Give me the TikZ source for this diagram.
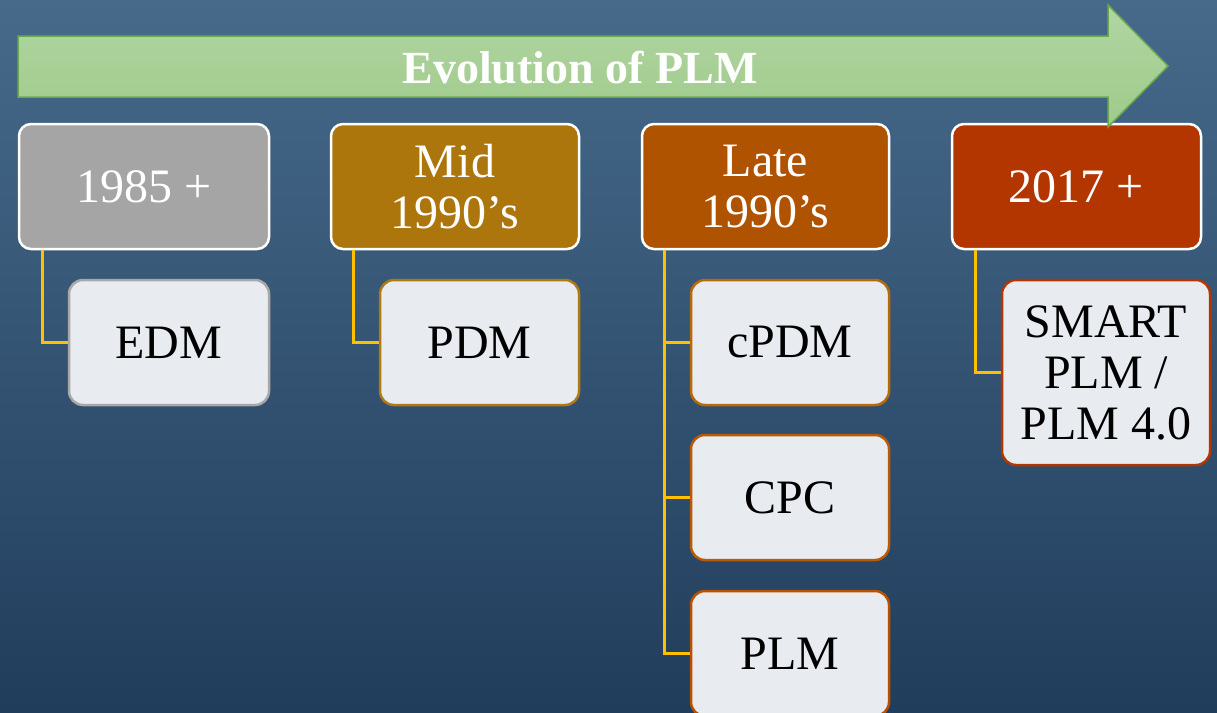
\documentclass[tikz,border=0pt]{standalone}
\usepackage{fontspec}
\setmainfont{Liberation Serif}
\definecolor{bgtop}{HTML}{476A8A}
\definecolor{bgbot}{HTML}{213D5C}
\definecolor{arrtop}{HTML}{B2D5A3}
\definecolor{arrbot}{HTML}{9FCB8A}
\definecolor{arredge}{HTML}{6AA84F}
\definecolor{hgrey}{HTML}{A5A5A5}
\definecolor{hgold}{HTML}{AD760C}
\definecolor{horange}{HTML}{B05300}
\definecolor{hred}{HTML}{B33600}
\definecolor{childfill}{HTML}{E8EBEF}
\definecolor{cgrey}{HTML}{A8A8A8}
\definecolor{cgold}{HTML}{B07A12}
\definecolor{corange}{HTML}{B86A08}
\definecolor{corange2}{HTML}{B85A06}
\definecolor{corange3}{HTML}{B85000}
\definecolor{cred}{HTML}{B33600}
\definecolor{conn}{HTML}{FFC000}
\tikzset{
  x=1pt, y=-1pt,
  headbox/.style={draw=white, line width=2.5pt, rounded corners=12pt,
    minimum width=#1, minimum height=125pt, inner sep=0pt, align=center,
    text=white, font=\fontsize{48}{51}\selectfont},
  childbox/.style={fill=childfill, line width=2.5pt, rounded corners=14pt,
    minimum width=#1, inner sep=0pt, align=center,
    text=black, font=\fontsize{48}{51}\selectfont},
  connline/.style={draw=conn, line width=3pt},
}
\begin{document}
\begin{tikzpicture}
\useasboundingbox (0,0) rectangle (1217,712);
\shade[top color=bgtop, bottom color=bgbot] (0,0) rectangle (1217,712);

% header boxes
\node[headbox=250pt, fill=hgrey] (h1) at (144,186.5) {1985 +};
\node[headbox=248pt, fill=hgold] (h2) at (455,186.5) {Mid\\1990’s};
\node[headbox=247pt, fill=horange] (h3) at (765.5,186.5) {Late\\1990’s};
\node[headbox=249pt, fill=hred] (h4) at (1076.5,186.5) {2017 +};

% child boxes
\node[childbox=200pt, minimum height=125pt, draw=cgrey] (edm) at (169,342.5) {EDM};
\node[childbox=199pt, minimum height=125pt, draw=cgold] (pdm) at (479.5,342.5) {PDM};
\node[childbox=198pt, minimum height=125pt, draw=corange] (cpdm) at (790,342.5) {cPDM};
\node[childbox=198pt, minimum height=125pt, draw=corange2] (cpc) at (790,497.5) {CPC};
\node[childbox=198pt, minimum height=125pt, draw=corange3] (plm) at (790,653.5) {PLM};
\node[childbox=208pt, minimum height=185pt, draw=cred] (smart) at (1106,372.5) {SMART\\PLM /\\PLM 4.0};

% connectors
\draw[connline] (h1.south west) ++(25,0) coordinate (c1) |- (edm.west);
\draw[connline] (h2.south west) ++(24,0) coordinate (c2) |- (pdm.west);
\draw[connline] (h3.south west) ++(24,0) coordinate (c3) |- (cpdm.west);
\draw[connline] (c3) |- (cpc.west);
\draw[connline] (c3) |- (plm.west);
\draw[connline] (h4.south west) ++(25,0) coordinate (c4) |- (smart.west);

% arrow
\filldraw[draw=arredge, line width=1.5pt, top color=arrtop, bottom color=arrbot]
  (18,36) -- (1108,36) -- (1108,5) -- (1168,66) -- (1108,127) -- (1108,97) -- (18,97) -- cycle;
\node[text=white, font=\bfseries\fontsize{46}{50}\selectfont] (title) at (580,68) {Evolution of PLM};
\end{tikzpicture}
\end{document}
